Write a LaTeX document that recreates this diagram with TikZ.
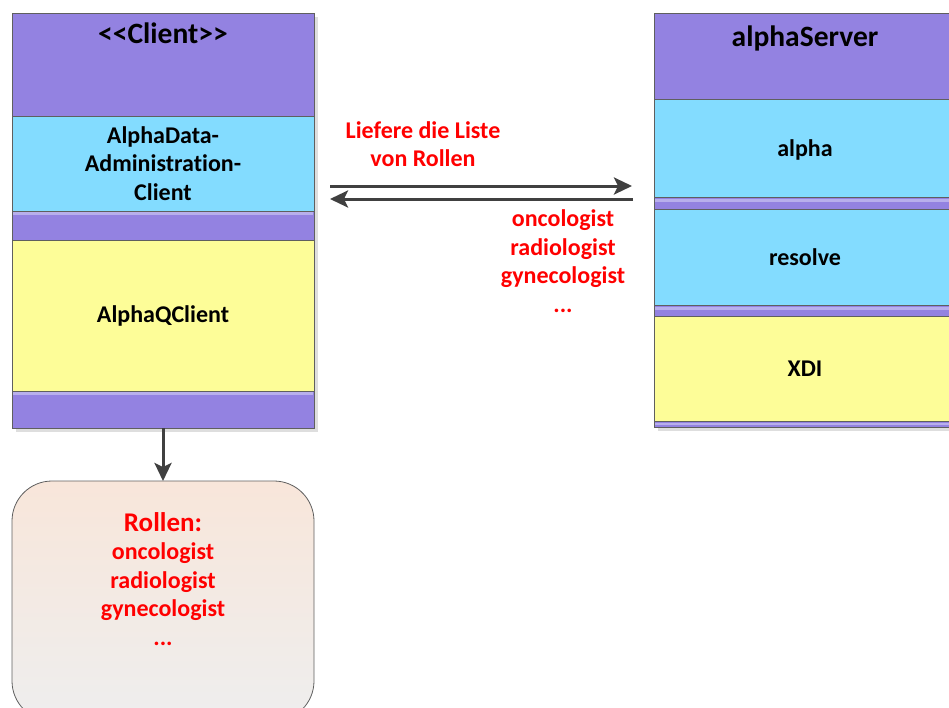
\documentclass[tikz,border=0pt]{standalone}
\usepackage{fontspec}
\setmainfont{Carlito}[Ligatures={TeX,NoCommon}]
\usetikzlibrary{positioning,arrows.meta}
\definecolor{umlpurple}{RGB}{147,130,225}
\definecolor{umlcyan}{RGB}{131,220,255}
\definecolor{umlyellow}{RGB}{253,253,152}
\definecolor{umlstrip}{RGB}{184,175,236}
\definecolor{umledge}{RGB}{95,95,95}
\definecolor{umlarrow}{RGB}{64,64,64}
\definecolor{notetop}{RGB}{248,230,218}
\definecolor{notebottom}{RGB}{238,238,238}
\begin{document}
\begin{tikzpicture}[x=1pt,y=-1pt,>={Stealth[length=18pt,width=17pt,inset=4pt]},
    part/.style={draw=umledge,line width=.8pt,minimum width=302pt,inner sep=0pt,outer sep=0pt,
        align=center,font=\bfseries\fontsize{24}{28.5}\selectfont},
    head/.style={part,fill=umlpurple},
    iface/.style={part,fill=umlcyan},
    impl/.style={part,fill=umlyellow},
    label/.style={part,draw=none,fill=none},
    title/.style={inner sep=0pt,font=\bfseries\fontsize{29.5}{32}\selectfont},
    msg/.style={text=red,align=center,inner sep=0pt,font=\bfseries\fontsize{24}{28.5}\selectfont},
    flow/.style={->,draw=umlarrow,line width=3pt},
    strip/.style={umlstrip,line width=3pt},
    shadow/.style={fill=black!13,draw=none}]
    \path[clip,use as bounding box] (0,0) rectangle (949,707);
    % shadows
    \fill[shadow] (16,17) rectangle (318,432);
    \fill[shadow] (658,17) rectangle (970,431);
    % client
    \node[head,minimum height=103pt,anchor=north west] (clienthead) at (12,13) {};
    \node[title,anchor=north] (clientname) at ([yshift=-10pt]clienthead.north) {<\kern0pt<Client>\kern0pt>};
    \node[iface,minimum height=95pt,below=0pt of clienthead] (admin) {AlphaData-\\Administration-\\Client};
    \node[head,minimum height=29pt,below=0pt of admin] (gapA) {};
    \node[impl,minimum height=151pt,below=0pt of gapA] (qclient) {AlphaQClient};
    \node[head,minimum height=37pt,below=0pt of qclient] (clientfoot) {};
    \draw[strip] ([shift={(1pt,-2pt)}]gapA.north west) -- ([shift={(-1pt,-2pt)}]gapA.north east);
    \draw[strip] ([shift={(1pt,-2pt)}]clientfoot.north west) -- ([shift={(-1pt,-2pt)}]clientfoot.north east);
    % server
    \node[head,minimum height=86pt,anchor=north west] (serverhead) at (654,13) {};
    \node[title,anchor=north] (servername) at ([yshift=-13pt]serverhead.north -| 805,0) {alphaServer};
    \node[iface,minimum height=98pt,below=0pt of serverhead] (alpha) {};
    \node[label] (alphaname) at ([yshift=-2pt]alpha.center -| 805,0) {alpha};
    \node[head,minimum height=12pt,below=0pt of alpha] (gapB) {};
    \node[iface,minimum height=96pt,below=0pt of gapB] (resolve) {};
    \node[label] (resolvename) at (resolve.center -| 805,0) {resolve};
    \node[head,minimum height=11pt,below=0pt of resolve] (gapC) {};
    \node[impl,minimum height=105pt,below=0pt of gapC] (xdi) {};
    \node[label] (xdiname) at (xdi.center -| 805,0) {XDI};
    \node[head,minimum height=6pt,below=0pt of xdi] (serverfoot) {};
    \draw[strip] ([shift={(1pt,-3pt)}]gapB.north west) -- ([shift={(-1pt,-3pt)}]gapB.north east);
    \draw[strip] ([shift={(1pt,-3pt)}]gapC.north west) -- ([shift={(-1pt,-3pt)}]gapC.north east);
    \draw[strip,line width=2pt] ([shift={(1pt,-3pt)}]serverfoot.north west) -- ([shift={(-1pt,-3pt)}]serverfoot.north east);
    % messages
    \draw[flow,shorten <=16pt,shorten >=22pt] (admin.east |- 0,186) -- (alpha.west |- 0,186);
    \draw[flow,shorten <=21pt,shorten >=16pt] (alpha.west |- 0,199) -- (admin.east |- 0,199);
    \node[msg] (request) at (423,144) {Liefere die Liste\\von Rollen};
    \node[msg] (answer) at (563,261) {oncologist\\radiologist\\gynecologist\\...};
    % result
    \node[draw=umledge,line width=.8pt,rounded corners=40pt,top color=notetop,bottom color=notebottom,
        minimum width=302pt,minimum height=240pt,outer sep=0pt,anchor=north] (rollen) at (163,481) {};
    \draw[flow] (clientfoot.south) -- (rollen.north);
    \node[msg] (rollenlist) at (163,579) {{\fontsize{27}{30}\selectfont Rollen:}\\oncologist\\radiologist\\gynecologist\\...};
\end{tikzpicture}
\end{document}
